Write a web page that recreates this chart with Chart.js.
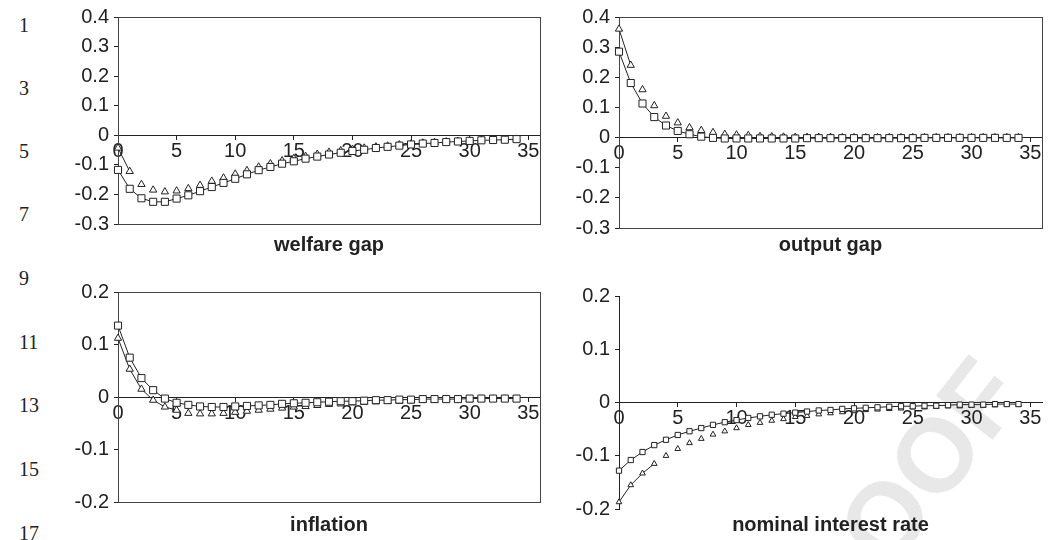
<!DOCTYPE html>
<html lang="en">
<head>
  <meta charset="UTF-8">
  <title>Impulse responses</title>
  <style>
    body {
      margin: 0;
      padding: 0;
      background: #fff;
      width: 1049px;
      height: 540px;
      overflow: hidden;
      position: relative;
    }
    .panel {
      position: absolute;
      z-index: 2;
    }
    .lineno {
      position: absolute;
      left: 19px;
      font-family: 'Liberation Serif', 'Times New Roman', serif;
      font-size: 20px;
      color: #222;
      line-height: 20px;
      margin-top: -10px;
    }
    .mark {
      position: absolute;
      left: 930px;
      top: 462px;
      transform: translate(-50%, -50%) rotate(-52deg);
      font-family: 'Liberation Sans', Arial, sans-serif;
      font-weight: bold;
      font-size: 104px;
      color: #e8e8e8;
      z-index: 1;
      white-space: nowrap;
    }
  </style>
</head>
<body>
  <div class="mark">OOF</div>
  <div id="nums"></div>
  <div class="panel" id="p1"><canvas id="c1"></canvas></div>
  <div class="panel" id="p2"><canvas id="c2"></canvas></div>
  <div class="panel" id="p3"><canvas id="c3"></canvas></div>
  <div class="panel" id="p4"><canvas id="c4"></canvas></div>

  <script src="https://cdn.jsdelivr.net/npm/chart.js"></script>
  <script>
    // periods after the shock
    const periods = [0, 1, 2, 3, 4, 5, 6, 7, 8, 9, 10, 11, 12, 13, 14, 15, 16, 17,
      18, 19, 20, 21, 22, 23, 24, 25, 26, 27, 28, 29, 30, 31, 32, 33, 34];
    const xTicks = [0, 5, 10, 15, 20, 25, 30, 35];
    const yTicksTop = [-0.3, -0.2, -0.1, 0, 0.1, 0.2, 0.3, 0.4];
    const yTicksBottom = [-0.2, -0.1, 0, 0.1, 0.2];

    // welfare gap
    const welfareSq = [-0.117, -0.181, -0.213, -0.225, -0.225, -0.214, -0.203, -0.189, -0.175, -0.161,
      -0.147, -0.132, -0.118, -0.107, -0.096, -0.088, -0.079, -0.072, -0.065, -0.059,
      -0.053, -0.049, -0.043, -0.039, -0.035, -0.031, -0.028, -0.026, -0.023, -0.021,
      -0.019, -0.017, -0.016, -0.015, -0.013];
    const welfareTri = [-0.043, -0.122, -0.166, -0.185, -0.191, -0.188, -0.180, -0.169, -0.155, -0.144,
      -0.131, -0.119, -0.107, -0.096, -0.086, -0.078, -0.071, -0.064, -0.057, -0.052,
      -0.047, -0.043, -0.039, -0.036, -0.032, -0.029, -0.026, -0.024, -0.022, -0.020,
      -0.018, -0.016, -0.015, -0.014, -0.013];

    // output gap
    const outputSq = [0.285, 0.181, 0.113, 0.068, 0.040, 0.022, 0.011, 0.003, -0.001, -0.003,
      -0.003, -0.003, -0.003, -0.003, -0.003, -0.003, -0.002, -0.002, -0.002, -0.002,
      -0.002, -0.002, -0.002, -0.002, -0.002, -0.002, -0.001, -0.001, -0.001, -0.001,
      -0.001, -0.001, -0.001, -0.001, -0.001];
    const outputTri = [0.360, 0.240, 0.159, 0.106, 0.071, 0.049, 0.033, 0.024, 0.017, 0.011,
      0.009, 0.007, 0.004, 0.003, 0.002, 0.001, 0.001, 0.001, 0.001, 0,
      0, 0, 0, 0, 0, 0, 0, 0, 0, 0,
      0, 0, 0, 0, 0];

    // inflation
    const inflSq = [0.136, 0.075, 0.036, 0.013, -0.003, -0.011, -0.015, -0.018, -0.019, -0.019,
      -0.018, -0.017, -0.016, -0.015, -0.013, -0.012, -0.011, -0.010, -0.009, -0.008,
      -0.008, -0.007, -0.006, -0.006, -0.005, -0.005, -0.004, -0.004, -0.004, -0.004,
      -0.003, -0.003, -0.003, -0.003, -0.003];
    const inflTri = [0.112, 0.053, 0.015, -0.006, -0.019, -0.025, -0.031, -0.032, -0.032, -0.031,
      -0.029, -0.027, -0.025, -0.023, -0.021, -0.019, -0.018, -0.016, -0.014, -0.013,
      -0.011, -0.010, -0.009, -0.008, -0.008, -0.007, -0.006, -0.006, -0.005, -0.005,
      -0.005, -0.004, -0.004, -0.004, -0.004];

    // nominal interest rate
    const rateSq = [-0.128, -0.108, -0.093, -0.080, -0.070, -0.061, -0.054, -0.048, -0.042, -0.037,
      -0.033, -0.029, -0.026, -0.023, -0.021, -0.019, -0.017, -0.015, -0.014, -0.012,
      -0.011, -0.010, -0.009, -0.008, -0.007, -0.007, -0.006, -0.006, -0.005, -0.004,
      -0.004, -0.004, -0.003, -0.003, -0.003];
    const rateTri = [-0.187, -0.155, -0.133, -0.115, -0.100, -0.087, -0.076, -0.068, -0.060, -0.054,
      -0.048, -0.042, -0.038, -0.034, -0.031, -0.027, -0.025, -0.022, -0.020, -0.018,
      -0.016, -0.014, -0.013, -0.012, -0.011, -0.009, -0.009, -0.008, -0.007, -0.007,
      -0.006, -0.006, -0.005, -0.004, -0.004];

    const lineNumbers = ['1', '3', '5', '7', '9', '11', '13', '15', '17'];

    // margin line numbers of the proof page
    const numTops = [25, 88, 151, 214, 278, 342, 405, 469, 533];
    const nums = document.getElementById('nums');
    lineNumbers.forEach((n, i) => {
      const d = document.createElement('div');
      d.className = 'lineno';
      d.style.top = numTops[i] + 'px';
      d.textContent = n;
      nums.appendChild(d);
    });

    Chart.defaults.font.family = "'Liberation Sans', Arial, sans-serif";
    Chart.defaults.color = '#222';

    const ink = '#222';

    // box round the plot area (Excel style)
    const framePlugin = {
      id: 'frame',
      beforeDatasetsDraw(chart, args, opts) {
        if (!opts.show) return;
        const { ctx, chartArea: a } = chart;
        ctx.save();
        ctx.strokeStyle = '#444';
        ctx.lineWidth = 1;
        ctx.strokeRect(Math.round(a.left) + 0.5, Math.round(a.top) + 0.5,
          Math.round(a.right - a.left), Math.round(a.bottom - a.top));
        ctx.restore();
      }
    };

    const Y_W = 80;
    const TITLE_SIZE = 20;
    const TITLE_LH = TITLE_SIZE * 1.2;

    function makePanel(id, box, area, titleY, opts) {
      const el = document.getElementById('p' + id);
      el.style.left = box[0] + 'px';
      el.style.top = box[1] + 'px';
      el.style.width = box[2] + 'px';
      el.style.height = box[3] + 'px';

      const titlePad = titleY - area[3] - TITLE_LH / 2;
      const pad = {
        left: area[0] - box[0] - Y_W,
        right: box[0] + box[2] - area[2],
        top: area[1] - box[1],
        bottom: box[1] + box[3] - area[3] - titlePad - TITLE_LH
      };

      const toXY = vals => periods.map((p, i) => ({ x: p, y: vals[i] }));
      const r = opts.small ? 3.7 : 5;
      const rt = opts.small ? 3.3 : 4.2;

      new Chart(document.getElementById('c' + id), {
        type: 'line',
        data: {
          datasets: [
            {
              label: 'squares',
              data: toXY(opts.sq),
              borderColor: ink,
              borderWidth: 1,
              pointStyle: 'rect',
              pointRadius: r,
              pointBackgroundColor: '#fff',
              pointBorderColor: ink,
              pointBorderWidth: 1,
              tension: 0,
              clip: false,
              order: 1
            },
            {
              label: 'triangles',
              data: toXY(opts.tri),
              borderWidth: 1,
              borderColor: ink,
              segment: {
                borderColor: ctx => ctx.p1DataIndex <= opts.triLine ? ink : 'rgba(0,0,0,0)'
              },
              pointStyle: 'triangle',
              pointRadius: rt,
              pointBackgroundColor: '#fff',
              pointBorderColor: ink,
              pointBorderWidth: 1,
              tension: 0,
              clip: false,
              order: 2
            }
          ]
        },
        options: {
          responsive: true,
          maintainAspectRatio: false,
          animation: false,
          layout: { padding: pad },
          scales: {
            x: {
              type: 'linear',
              position: { y: 0 },
              min: 0,
              max: 36,
              afterBuildTicks: s => { s.ticks = xTicks.map(v => ({ value: v })); },
              ticks: {
                autoSkip: false,
                maxRotation: 0,
                padding: 0,
                font: { size: 20 },
                color: ink,
                callback: v => String(v)
              },
              grid: { display: true, drawOnChartArea: false, drawTicks: true, tickLength: 4, color: ink },
              border: { display: true, color: ink, width: 1 }
            },
            y: {
              type: 'linear',
              min: opts.yTicks[0],
              max: opts.yTicks[opts.yTicks.length - 1],
              afterBuildTicks: s => { s.ticks = opts.yTicks.map(v => ({ value: v })); },
              afterFit: s => { s.width = Y_W; },
              ticks: {
                padding: 5,
                font: { size: 20 },
                color: ink,
                callback: v => String(v)
              },
              grid: { display: true, drawOnChartArea: false, drawTicks: true, tickLength: 4, color: ink },
              border: { display: true, color: ink, width: 1 }
            }
          },
          plugins: {
            legend: { display: false },
            tooltip: { enabled: false },
            frame: { show: opts.frame },
            title: {
              display: true,
              fullSize: false,
              text: opts.title,
              position: 'bottom',
              color: ink,
              font: { size: TITLE_SIZE, weight: 'bold' },
              padding: { top: titlePad, bottom: 0 }
            }
          }
        },
        plugins: [framePlugin]
      });
    }

    makePanel(1, [30, 0, 520, 268], [118, 14, 540, 224], 245,
      { sq: welfareSq, tri: welfareTri, yTicks: yTicksTop, title: 'welfare gap', frame: true, triLine: 1 });
    makePanel(2, [531, 0, 518, 268], [619, 15, 1042, 228], 245,
      { sq: outputSq, tri: outputTri, yTicks: yTicksTop, title: 'output gap', frame: true, triLine: 1 });
    makePanel(3, [30, 268, 520, 272], [118, 292, 540, 502], 525,
      { sq: inflSq, tri: inflTri, yTicks: yTicksBottom, title: 'inflation', frame: true, triLine: 5 });
    makePanel(4, [531, 268, 518, 272], [619, 296, 1042, 509], 525,
      { sq: rateSq, tri: rateTri, yTicks: yTicksBottom, title: 'nominal interest rate', frame: false, triLine: 3, small: true });
  </script>
</body>
</html>
